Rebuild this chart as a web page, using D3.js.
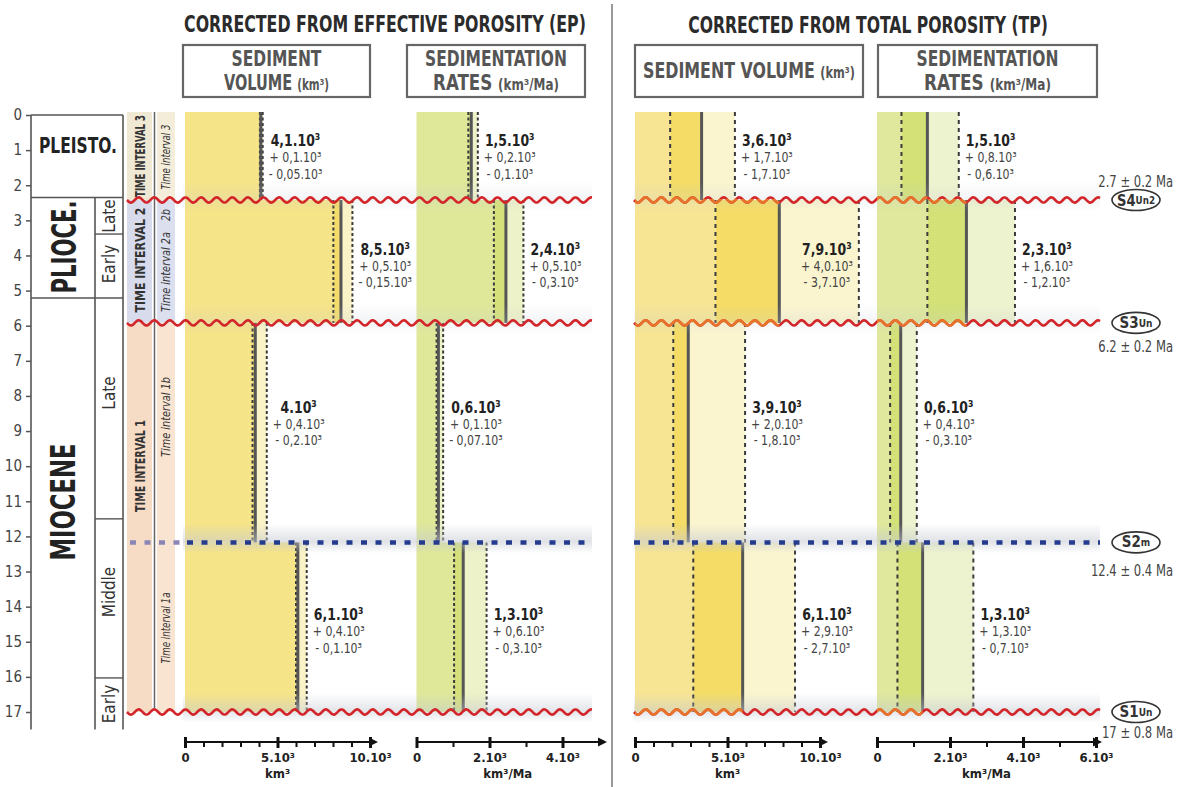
<!DOCTYPE html>
<html>
<head>
<meta charset="utf-8">
<script src="https://cdn.jsdelivr.net/npm/d3@7"></script>
<style>
  body { margin: 0; background: #fff; }
  text { font-family: "Liberation Sans Narrow", "DejaVu Sans Condensed", "Roboto Condensed", sans-serif; }
</style>
</head>
<body>
<svg id="chart"></svg>
<script>
// ---------------- data ----------------
const ageTicks = d3.range(0, 18);

// chronostratigraphy (Ma, as drawn)
const epochNames = ["PLEISTO.", "PLIOCE.", "MIOCENE"];
const epochStart = [0, 2.35, 5.21];
const epochEnd = [2.35, 5.21, 17.5];
const stageNames = ["Late", "Early", "Late", "Middle", "Early"];
const stageStart = [2.35, 3.39, 5.21, 11.5, 16.03];
const stageEnd = [3.39, 5.21, 11.5, 16.03, 17.5];

// time intervals
const intervalNames = ["TIME INTERVAL 3", "TIME INTERVAL 2", "TIME INTERVAL 1"];
const intervalStart = [0, 2.42, 5.92];
const intervalEnd = [2.42, 5.92, 17];
const subNames = ["Time interval 3", "2b", "Time interval 2a", "Time interval 1b", "Time interval 1a"];

// surfaces bounding the intervals
const surfaceAges = [2.42, 5.92, 12.17, 17];
const surfaceMain = ["S4", "S3", "S2", "S1"];
const surfaceSub = ["Un2", "Un", "m", "Un"];
const surfaceType = ["wave", "wave", "dots", "wave"];
const surfaceDates = ["2.7 ± 0.2 Ma", "6.2 ± 0.2 Ma", "12.4 ± 0.4 Ma", "17 ± 0.8 Ma"];

// rows of the panels: 3, 2, 1b, 1a
const rowStart = [0, 2.42, 5.92, 12.17];
const rowEnd = [2.42, 5.92, 12.17, 17];

const epVolMean = [4.1, 8.43, 3.8, 6.1];
const epVolLo = [4.05, 8.02, 3.65, 6.0];
const epVolHi = [4.2, 9.05, 4.42, 6.58];
const epRateMean = [1.5, 2.45, 0.6, 1.28];
const epRateLo = [1.42, 2.12, 0.55, 1.03];
const epRateHi = [1.68, 2.93, 0.73, 1.92];
const tpVolMean = [3.6, 7.8, 2.88, 5.82];
const tpVolLo = [1.9, 4.35, 2.07, 3.15];
const tpVolHi = [5.4, 12.1, 5.95, 8.65];
const tpRateMean = [1.38, 2.45, 0.65, 1.25];
const tpRateLo = [0.67, 1.38, 0.36, 0.56];
const tpRateHi = [2.24, 3.78, 1.09, 2.64];

// printed labels
const epVolLabels = [["4,1.10³", "+ 0,1.10³", "- 0,05.10³"], ["8,5.10³", "+ 0,5.10³", "- 0,15.10³"],
                     ["4.10³", "+ 0,4.10³", "- 0,2.10³"], ["6,1.10³", "+ 0,4.10³", "- 0,1.10³"]];
const epRateLabels = [["1,5.10³", "+ 0,2.10³", "- 0,1.10³"], ["2,4.10³", "+ 0,5.10³", "- 0,3.10³"],
                      ["0,6.10³", "+ 0,1.10³", "- 0,07.10³"], ["1,3.10³", "+ 0,6.10³", "- 0,3.10³"]];
const tpVolLabels = [["3,6.10³", "+ 1,7.10³", "- 1,7.10³"], ["7,9.10³", "+ 4,0.10³", "- 3,7.10³"],
                     ["3,9.10³", "+ 2,0.10³", "- 1,8.10³"], ["6,1.10³", "+ 2,9.10³", "- 2,7.10³"]];
const tpRateLabels = [["1,5.10³", "+ 0,8.10³", "- 0,6.10³"], ["2,3.10³", "+ 1,6.10³", "- 1,2.10³"],
                      ["0,6.10³", "+ 0,4.10³", "- 0,3.10³"], ["1,3.10³", "+ 1,3.10³", "- 0,7.10³"]];

// axis ticks
const volTicks = [0, 5, 10];
const volTickLabels = ["0", "5.10³", "10.10³"];
const epRateTicks = [0, 2, 4];
const epRateTickLabels = ["0", "2.10³", "4.10³"];
const tpRateTicks = [0, 2, 4, 6];
const tpRateTickLabels = ["0", "2.10³", "4.10³", "6.10³"];

// ---------------- layout ----------------
const W = 1179, H = 787;
const svg = d3.select("#chart").attr("width", W).attr("height", H);
const y = d3.scaleLinear().domain([0, 17]).range([115, 712]);
const labelAges = [1.21, 4.3, 8.8, 14.7];
const axisY = 742;
const dark = "#333";
const squeeze = 0.84;

function fitWidth(sel, w) {
  sel.each(function () {
    const b = this.getBBox();
    const k = w / b.width, cx = b.x + b.width / 2;
    d3.select(this).attr("transform", `translate(${cx},0) scale(${k},1) translate(${-cx},0)`);
  });
}

function wavePath(x0, x1, yc) {
  const pts = d3.range(x0, x1 + 0.5, 1).map(x => [x, yc + 2.6 * Math.sin((x - x0) / 15.6 * 2 * Math.PI)]);
  return d3.line()(pts);
}

const defs = svg.append("defs");
const fade = defs.append("linearGradient").attr("id", "fade").attr("x1", 0).attr("x2", 0).attr("y1", 0).attr("y2", 1);
fade.append("stop").attr("offset", 0).attr("stop-color", "#c4c9d2").attr("stop-opacity", 0);
fade.append("stop").attr("offset", 0.6).attr("stop-color", "#c4c9d2").attr("stop-opacity", 0.6);
fade.append("stop").attr("offset", 1).attr("stop-color", "#c4c9d2").attr("stop-opacity", 0);

// ---------------- titles ----------------
const titles = svg.append("g").attr("fill", "#2b2b2b").attr("font-weight", "bold");
titles.append("text").attr("x", 385).attr("y", 32).attr("text-anchor", "middle").attr("font-size", 23)
  .text("CORRECTED FROM  EFFECTIVE POROSITY (EP)").call(fitWidth, 402);
titles.append("text").attr("x", 868).attr("y", 33).attr("text-anchor", "middle").attr("font-size", 23)
  .text("CORRECTED FROM TOTAL POROSITY (TP)").call(fitWidth, 360);

const boxes = [
  {x: 183, w: 187, lines: [["SEDIMENT", ""], ["VOLUME ", "(km³)"]], fit: [90, 105]},
  {x: 407, w: 178, lines: [["SEDIMENTATION", ""], ["RATES ", "(km³/Ma)"]], fit: [142, 126]},
  {x: 635, w: 228, lines: [["SEDIMENT VOLUME ", "(km³)"]], fit: [212]},
  {x: 878, w: 219, lines: [["SEDIMENTATION", ""], ["RATES ", "(km³/Ma)"]], fit: [142, 127]}
];
boxes.forEach(b => {
  const g = svg.append("g");
  g.append("rect").attr("x", b.x).attr("y", 45).attr("width", b.w).attr("height", 52)
    .attr("fill", "#fff").attr("stroke", "#666").attr("stroke-width", 2.2);
  b.lines.forEach((ln, i) => {
    const yy = b.lines.length === 1 ? 78 : 66 + i * 24;
    const t = g.append("text").attr("x", b.x + b.w / 2).attr("y", yy).attr("text-anchor", "middle")
      .attr("fill", "#555").attr("font-weight", "bold").attr("font-size", 21);
    t.append("tspan").text(ln[0]);
    if (ln[1]) t.append("tspan").attr("font-size", 15).text(ln[1]);
    t.call(fitWidth, b.fit[i]);
  });
});

// separator
svg.append("line").attr("x1", 612).attr("x2", 612).attr("y1", 4).attr("y2", 787)
  .attr("stroke", "#9a9a9a").attr("stroke-width", 2);

// ---------------- chronostratigraphic column ----------------
const col = svg.append("g");
const ageAxis = d3.axisLeft(y).tickValues(ageTicks).tickSize(5).tickPadding(4);
col.append("g").attr("transform", "translate(31,0)").call(ageAxis)
  .call(g => g.select(".domain").remove())
  .call(g => g.selectAll("line").attr("stroke", "#555").attr("stroke-width", 1.5))
  .call(g => g.selectAll("text").attr("font-size", 15).attr("fill", "#444"));

const lineColor = "#555";
col.append("line").attr("x1", 31).attr("x2", 31).attr("y1", y(0)).attr("y2", y(17.5)).attr("stroke", lineColor).attr("stroke-width", 1.6);
col.append("line").attr("x1", 123).attr("x2", 123).attr("y1", y(0)).attr("y2", y(17.5)).attr("stroke", lineColor).attr("stroke-width", 1.6);
col.append("line").attr("x1", 95).attr("x2", 95).attr("y1", y(epochStart[1])).attr("y2", y(17.5)).attr("stroke", lineColor).attr("stroke-width", 1.6);
col.selectAll(".eb").data(epochStart).join("line")
  .attr("x1", 31).attr("x2", 123).attr("y1", d => y(d)).attr("y2", d => y(d))
  .attr("stroke", lineColor).attr("stroke-width", 1.6);
col.selectAll(".sb").data(stageStart.filter(d => !epochStart.includes(d))).join("line")
  .attr("x1", 95).attr("x2", 123).attr("y1", d => y(d)).attr("y2", d => y(d))
  .attr("stroke", lineColor).attr("stroke-width", 1.4);

col.append("text").attr("x", 78).attr("y", (y(epochStart[0]) + y(epochEnd[0])) / 2 - 10)
  .attr("text-anchor", "middle").attr("dominant-baseline", "central")
  .attr("font-weight", "bold").attr("font-size", 21).attr("fill", "#222").text(epochNames[0]).call(fitWidth, 78);
const epochFit = [null, 93, 117];
const epochCy = [null, 247, 502];
[1, 2].forEach(i => {
  col.append("g").attr("transform", `translate(64,${epochCy[i]}) rotate(-90)`)
    .append("text").attr("text-anchor", "middle").attr("dominant-baseline", "central")
    .attr("font-weight", "bold").attr("font-size", 33).attr("fill", "#222").text(epochNames[i])
    .call(fitWidth, epochFit[i]);
});
const stageCy = [216, 264, 393, 592, 704];
stageNames.forEach((s, i) => {
  col.append("g").attr("transform", `translate(109,${stageCy[i]}) rotate(-90)`)
    .append("text").attr("text-anchor", "middle").attr("dominant-baseline", "central")
    .attr("font-size", 17).attr("fill", "#333").text(s);
});

// ---------------- time interval bands ----------------
const bandColors = ["#efe8d3", "#d7dbeb", "#f6dbc5"];
const subColors = ["#f3edda", "#dcdfee", "#f9e4d2"];
const ti = svg.append("g");
ti.selectAll(".b1").data(intervalNames).join("rect")
  .attr("x", 127).attr("width", 25)
  .attr("y", (d, i) => y(intervalStart[i]) - (i === 0 ? 3 : 0))
  .attr("height", (d, i) => y(intervalEnd[i]) - y(intervalStart[i]) + (i === 0 ? 3 : 0))
  .attr("fill", (d, i) => bandColors[i]);
ti.selectAll(".b2").data(intervalNames).join("rect")
  .attr("x", 157).attr("width", 18)
  .attr("y", (d, i) => y(intervalStart[i]) - (i === 0 ? 3 : 0))
  .attr("height", (d, i) => y(intervalEnd[i]) - y(intervalStart[i]) + (i === 0 ? 3 : 0))
  .attr("fill", (d, i) => subColors[i]);
ti.append("line").attr("x1", 154.5).attr("x2", 154.5).attr("y1", y(0) - 3).attr("y2", y(17) - 2)
  .attr("stroke", "#666").attr("stroke-width", 1.5);

const tiCy = [156, 260, 466];
const tiFit = [82, 105, 92];
intervalNames.forEach((s, i) => {
  ti.append("g").attr("transform", `translate(140,${tiCy[i]}) rotate(-90)`)
    .append("text").attr("text-anchor", "middle").attr("dominant-baseline", "central")
    .attr("font-weight", "bold").attr("font-size", 14).attr("fill", "#333").text(s)
    .call(fitWidth, tiFit[i]);
});
const subCy = [157, 215, 272, 417, 628];
const subFit = [65, 12, 80, 80, 71];
subNames.forEach((s, i) => {
  ti.append("g").attr("transform", `translate(166,${subCy[i]}) rotate(-90)`)
    .append("text").attr("text-anchor", "middle").attr("dominant-baseline", "central")
    .attr("font-style", "italic").attr("font-size", 12).attr("fill", "#333").text(s)
    .call(fitWidth, subFit[i]);
});

// ---------------- panels ----------------
const volColorsEP = ["#f6e488", "#f3dc6a", "#faf3c8"];
const rateColorsEP = ["#dfe899", "#d5e07a", "#eef2c8"];
const volColorsTP = ["#f7e594", "#f4dc66", "#fbf5cf"];
const rateColorsTP = ["#dfe89c", "#d3e177", "#eef3cf"];

const panels = [
  {x: d3.scaleLinear([0, 10], [185, 370]), mean: epVolMean, lo: epVolLo, hi: epVolHi, labels: epVolLabels,
   ticks: volTicks, tickLabels: volTickLabels, minor: d3.range(0, 11), unit: "km³", unitAt: 5,
   colors: volColorsEP, limit: 420, arrow: 378, dash: "3,2.5"},
  {x: d3.scaleLinear([0, 4], [416.5, 562.5]), mean: epRateMean, lo: epRateLo, hi: epRateHi, labels: epRateLabels,
   ticks: epRateTicks, tickLabels: epRateTickLabels, minor: d3.range(0, 5), unit: "km³/Ma", unitAt: 2.5,
   colors: rateColorsEP, limit: 600, arrow: 607, dash: "3,2.5"},
  {x: d3.scaleLinear([0, 10], [635, 820]), mean: tpVolMean, lo: tpVolLo, hi: tpVolHi, labels: tpVolLabels,
   ticks: volTicks, tickLabels: volTickLabels, minor: d3.range(0, 11), unit: "km³", unitAt: 5,
   colors: volColorsTP, limit: 872, arrow: 828, dash: "4,4"},
  {x: d3.scaleLinear([0, 6], [877, 1096]), mean: tpRateMean, lo: tpRateLo, hi: tpRateHi, labels: tpRateLabels,
   ticks: tpRateTicks, tickLabels: tpRateTickLabels, minor: d3.range(0, 7), unit: "km³/Ma", unitAt: 3,
   colors: rateColorsTP, limit: 1100, arrow: 1102, dash: "4,4"}
];

const barsLayer = svg.append("g");
const fadeLayer = svg.append("g");
const surfLayer = svg.append("g");
const labelLayer = svg.append("g");

panels.forEach((p, pi) => {
  const g = barsLayer.append("g");
  const rows = d3.range(rowStart.length);
  const x0 = p.x(0);
  const segs = [];
  rows.forEach(r => {
    segs.push({r, a: 0, b: p.lo[r], c: p.colors[0]});
    segs.push({r, a: p.lo[r], b: p.mean[r], c: p.colors[1]});
    segs.push({r, a: p.mean[r], b: p.hi[r], c: p.colors[2]});
  });
  g.selectAll("rect").data(segs).join("rect")
    .attr("x", d => p.x(d.a)).attr("width", d => Math.max(0, p.x(d.b) - p.x(d.a)))
    .attr("y", d => y(rowStart[d.r]) - (d.r === 0 ? 3 : 0))
    .attr("height", d => y(rowEnd[d.r]) - y(rowStart[d.r]) + (d.r === 0 ? 3 : 0))
    .attr("fill", d => d.c);
  // dashed bounds
  const dashes = rows.flatMap(r => [{r, v: p.lo[r]}, {r, v: p.hi[r]}]);
  g.selectAll(".dash").data(dashes).join("line").attr("class", "dash")
    .attr("x1", d => p.x(d.v)).attr("x2", d => p.x(d.v))
    .attr("y1", d => y(rowStart[d.r]) - (d.r === 0 ? 3 : 0)).attr("y2", d => y(rowEnd[d.r]))
    .attr("stroke", "#3a3a3a").attr("stroke-width", 2).attr("stroke-dasharray", p.dash);
  // mean
  g.selectAll(".mean").data(rows).join("line").attr("class", "mean")
    .attr("x1", r => p.x(p.mean[r])).attr("x2", r => p.x(p.mean[r]))
    .attr("y1", r => y(rowStart[r]) - (r === 0 ? 3 : 0)).attr("y2", r => y(rowEnd[r]))
    .attr("stroke", "#555").attr("stroke-width", 3);

  // value labels (condensed horizontally)
  rows.forEach(r => {
    const lg = labelLayer.append("g");
    const cy = y(labelAges[r]);
    const ts = p.labels[r].map((s, k) => lg.append("text")
      .attr("y", cy - 16.5 + k * 16.5).attr("dominant-baseline", "central")
      .attr("font-size", k === 0 ? 16.5 : 14.5).attr("font-weight", k === 0 ? "bold" : "normal")
      .attr("fill", k === 0 ? "#222" : "#444").text(s));
    const widths = ts.map(t => t.node().getComputedTextLength());
    const bw = d3.max(widths);
    const hx = p.x(p.hi[r]);
    let left = hx + 6;
    if (left + bw * squeeze > p.limit) left = hx - 6 - bw * squeeze;
    ts.forEach((t, k) => t.attr("x", (bw - widths[k]) / 2));
    lg.attr("transform", `translate(${left},0) scale(${squeeze},1)`);
  });

  // bottom axis
  const ax = svg.append("g").attr("transform", `translate(0,${axisY})`);
  ax.append("line").attr("x1", x0).attr("x2", p.arrow - 6).attr("stroke", "#111").attr("stroke-width", 2.2);
  ax.append("path").attr("d", `M${p.arrow},0 L${p.arrow - 9},-4.5 L${p.arrow - 9},4.5Z`).attr("fill", "#111");
  ax.append("g").call(d3.axisBottom(p.x).tickValues(p.minor).tickSize(5).tickFormat(""))
    .call(g2 => g2.select(".domain").remove())
    .call(g2 => g2.selectAll("line").attr("stroke", "#111").attr("stroke-width", 2));
  ax.append("g").call(d3.axisBottom(p.x).tickValues(p.ticks).tickSize(6).tickPadding(5)
      .tickFormat((d, i) => p.tickLabels[i]))
    .call(g2 => g2.select(".domain").remove())
    .call(g2 => g2.selectAll("line").attr("y1", -5).attr("stroke", "#111").attr("stroke-width", 3))
    .call(g2 => g2.selectAll("text").attr("font-size", 13).attr("font-weight", "bold").attr("fill", "#222"));
  ax.append("text").attr("x", p.x(p.unitAt)).attr("y", 36).attr("text-anchor", "middle")
    .attr("font-size", 13).attr("font-weight", "bold").attr("fill", "#222").text(p.unit);
});

// ---------------- surfaces ----------------
const spans = [[127, 592], [634, 1100]];
const fadeOpacity = [0.35, 0.35, 0.9, 0.8];
surfaceAges.forEach((a, i) => {
  const yc = y(a);
  spans.forEach(([s0, s1]) => {
    fadeLayer.append("rect").attr("x", Math.max(s0, 183)).attr("width", s1 - Math.max(s0, 183))
      .attr("y", yc - 19).attr("height", 30).attr("fill", "url(#fade)").attr("opacity", fadeOpacity[i]);
    if (surfaceType[i] === "wave") {
      surfLayer.append("path").attr("d", wavePath(s0, s1, yc)).attr("fill", "none")
        .attr("stroke", "#d3262b").attr("stroke-width", 2.6);
    } else {
      if (s0 < 183) {
        surfLayer.append("line").attr("x1", 130).attr("x2", 182).attr("y1", yc).attr("y2", yc)
          .attr("stroke", "#8b86b6").attr("stroke-width", 4.5).attr("stroke-dasharray", "6,8.5");
      }
      surfLayer.append("line").attr("x1", Math.max(s0, 187)).attr("x2", s1).attr("y1", yc).attr("y2", yc)
        .attr("stroke", "#253c8e").attr("stroke-width", 4.5).attr("stroke-dasharray", "6,8.5");
    }
  });
});

// orange tint of the waves where they cross the TP bars
const clip = defs.append("clipPath").attr("id", "tpbars");
[panels[2], panels[3]].forEach(p => {
  d3.range(rowStart.length).forEach(r => {
    clip.append("rect").attr("x", p.x(0)).attr("width", p.x(p.mean[r]) - p.x(0))
      .attr("y", y(rowStart[r]) - 1).attr("height", y(rowEnd[r]) - y(rowStart[r]) + 5);
  });
});
const tint = surfLayer.append("g").attr("clip-path", "url(#tpbars)");
surfaceAges.forEach((a, i) => {
  if (surfaceType[i] === "wave") {
    tint.append("path").attr("d", wavePath(634, 1100, y(a))).attr("fill", "none")
      .attr("stroke", "#e8742c").attr("stroke-width", 2.6);
  }
});

// ---------------- surface names and ages ----------------
const dateDy = [-18, 24, 28, 21];
surfaceAges.forEach((a, i) => {
  const yc = y(a);
  const g = svg.append("g");
  g.append("ellipse").attr("cx", 1136).attr("cy", yc).attr("rx", 24).attr("ry", 10.5)
    .attr("fill", "#fff").attr("stroke", dark).attr("stroke-width", 1.6);
  const t = g.append("text").attr("x", 1136).attr("y", yc).attr("text-anchor", "middle")
    .attr("dominant-baseline", "central").attr("font-weight", "bold").attr("fill", dark);
  t.append("tspan").attr("font-size", 15).text(surfaceMain[i]);
  t.append("tspan").attr("font-size", 10).text(surfaceSub[i]);
  const w = t.node().getBBox().width;
  if (w > 38) t.call(fitWidth, 38);
  g.append("text").attr("x", 1173).attr("y", yc + dateDy[i]).attr("text-anchor", "end")
    .attr("dominant-baseline", "central").attr("font-size", 15).attr("fill", "#444").text(surfaceDates[i])
    .call(sel => { const bw = sel.node().getBBox().width; sel.attr("transform", `translate(1173,0) scale(0.86,1) translate(-1173,0)`); });
});
</script>
</body>
</html>
